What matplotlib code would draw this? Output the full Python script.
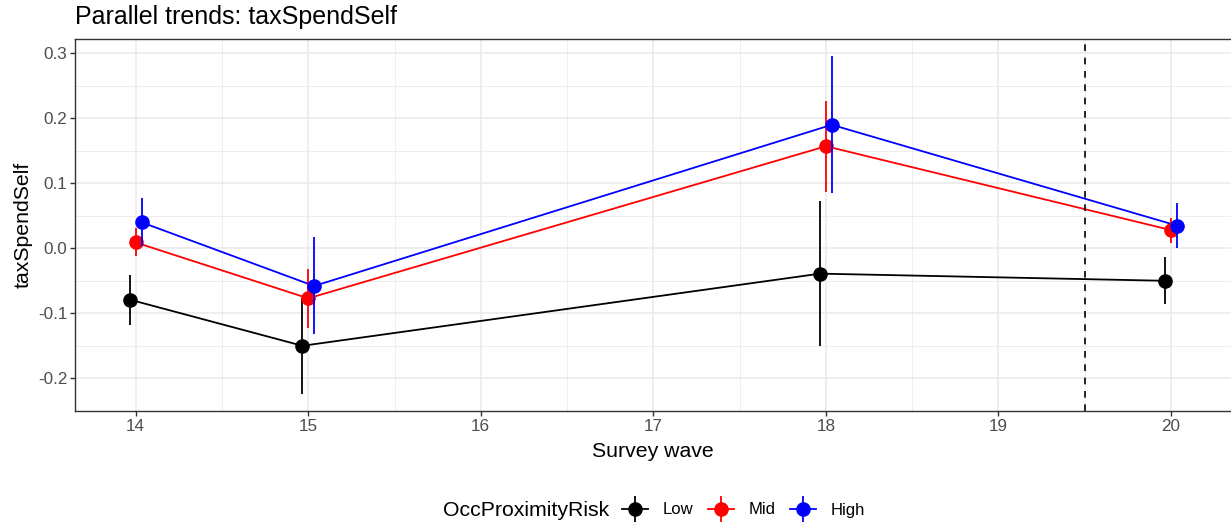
import matplotlib
matplotlib.use('Agg')
import matplotlib.pyplot as plt
from matplotlib.container import ErrorbarContainer
from matplotlib.legend_handler import HandlerErrorbar, HandlerTuple
from matplotlib.lines import Line2D
import numpy as np

plt.rcParams['font.family'] = ['Liberation Sans', 'DejaVu Sans']

waves = [14, 15, 18, 20]
groups = ['Low', 'Mid', 'High']
colors = ['black', '#FF0000', '#0000FF']

low = [-0.079, -0.150, -0.039, -0.050]
low_lo = [-0.118, -0.224, -0.150, -0.086]
low_hi = [-0.041, -0.077, 0.072, -0.014]

mid = [0.009, -0.077, 0.157, 0.028]
mid_lo = [-0.012, -0.123, 0.086, 0.008]
mid_hi = [0.031, -0.032, 0.227, 0.047]

high = [0.040, -0.058, 0.190, 0.035]
high_lo = [0.003, -0.132, 0.085, 0.001]
high_hi = [0.077, 0.017, 0.296, 0.070]

means = [low, mid, high]
lows = [low_lo, mid_lo, high_lo]
highs = [low_hi, mid_hi, high_hi]
dodge = [-0.034, 0.0, 0.034]
treat_line = 19.5

fig = plt.figure(figsize=(12.31, 5.25), dpi=100)
ax = fig.add_axes([75.3 / 1231, 1 - 411 / 525, 1 - 75.3 / 1231, (411 - 39.3) / 525])

grey = '#EBEBEB'
ax.set_xticks(np.arange(14, 21, 1))
ax.set_xticks(np.arange(13.5, 20.6, 0.5), minor=True)
ax.set_yticks(np.arange(-0.2, 0.31, 0.1))
ax.set_yticks(np.arange(-0.25, 0.31, 0.05), minor=True)
ax.grid(which='major', color=grey, linewidth=1.2, zorder=0)
ax.grid(which='minor', color=grey, linewidth=0.6, zorder=0)
ax.set_axisbelow(True)

lw = 1.3
handles = []
for i in range(3):
    x = np.array(waves) + dodge[i]
    ax.plot(x, means[i], color=colors[i], linewidth=lw, zorder=2)
for i in range(3):
    x = np.array(waves) + dodge[i]
    m = np.array(means[i])
    err = [m - np.array(lows[i]), np.array(highs[i]) - m]
    h = ax.errorbar(x, m, yerr=err, fmt='o', color=colors[i], markersize=9.5,
                    elinewidth=lw, capsize=0, zorder=3 + i)
    handles.append((Line2D([], [], color=colors[i], linewidth=lw), h))

ax.axvline(treat_line, color='black', linestyle=(0, (4, 4)), linewidth=1.2, zorder=2)

ax.set_xlim(14 - 60.4 / 172.55, 20 + 60 / 172.55)
ax.set_ylim(-0.2503, 0.3215)

for s in ['top', 'left', 'bottom']:
    ax.spines[s].set_color('#333333')
    ax.spines[s].set_linewidth(1.0)
ax.spines['right'].set_visible(False)

ax.set_yticklabels(['-0.2', '-0.1', '0.0', '0.1', '0.2', '0.3'])
ax.tick_params(which='major', length=3.8, width=1.0, color='#333333',
               labelsize=12.3, labelcolor='#4D4D4D', pad=2)
ax.tick_params(which='minor', length=0)

ax.set_xlabel('Survey wave', fontsize=15.3, labelpad=6)
ax.set_ylabel('taxSpendSelf', fontsize=15.3, labelpad=4)
ax.set_title('Parallel trends: taxSpendSelf', loc='left', fontsize=18, pad=11)

fig.text(443 / 1231, 1 - 510 / 525, 'OccProximityRisk', fontsize=15.3,
         ha='left', va='center')
leg = fig.legend(handles=handles, labels=groups, loc='center left',
                 bbox_to_anchor=(607 / 1231, 1 - 510 / 525), ncol=3,
                 frameon=False, fontsize=12, handlelength=1.56,
                 handletextpad=0.9, columnspacing=0.85,
                 handler_map={ErrorbarContainer: HandlerErrorbar(xerr_size=0.5, yerr_size=0.78),
                              tuple: HandlerTuple(ndivide=1)})

fig.savefig('out.png', dpi=100)
